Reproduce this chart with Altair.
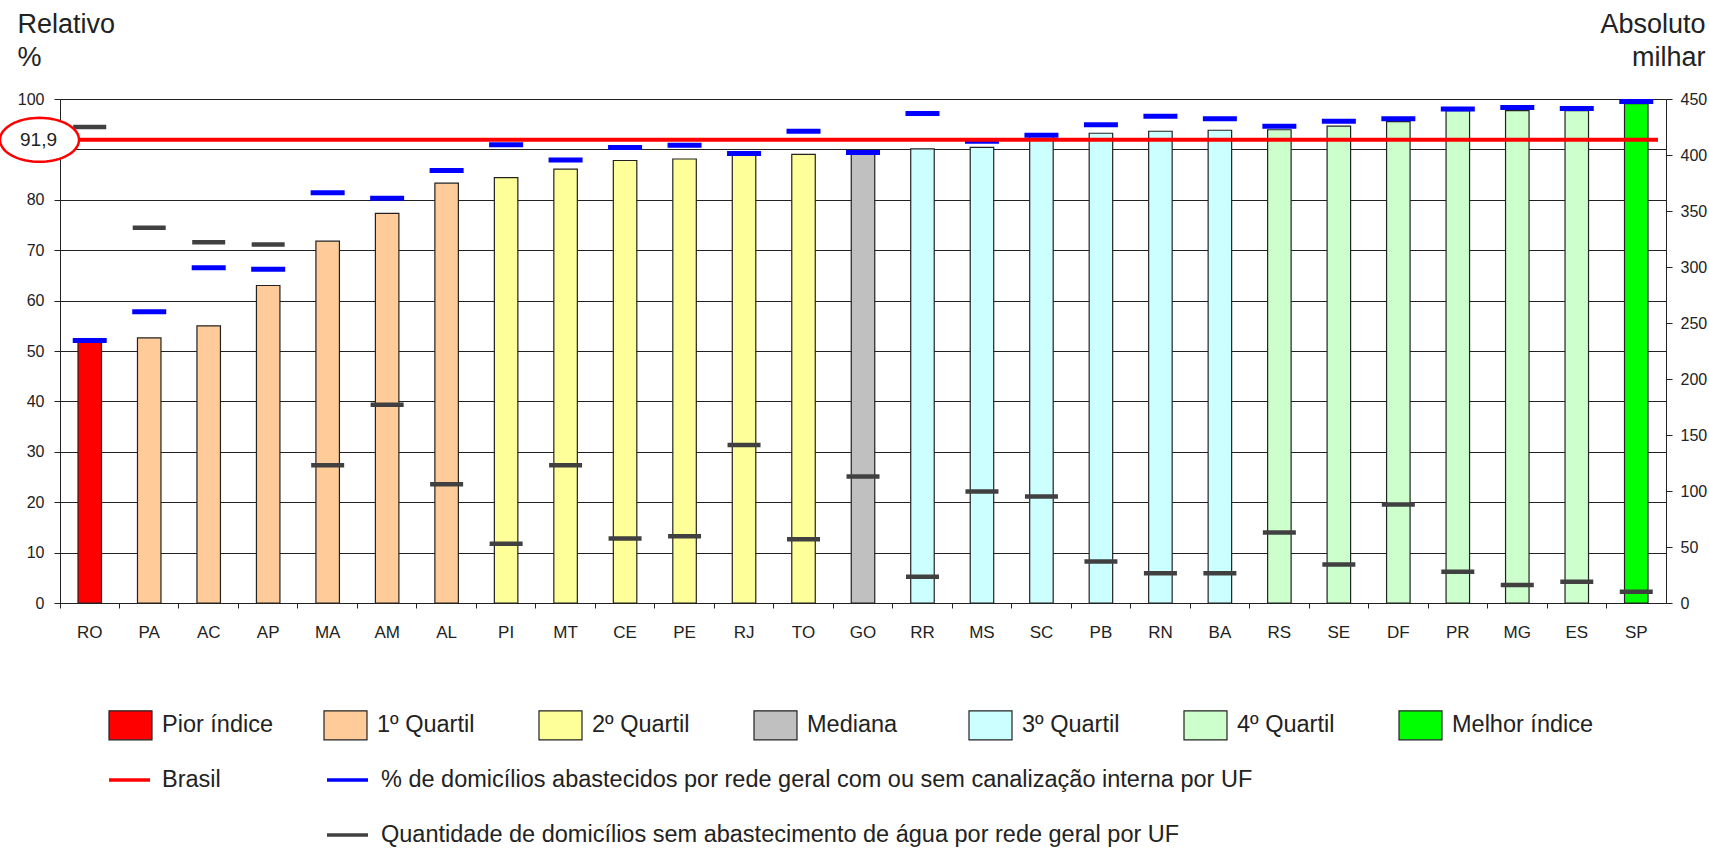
import math

import altair as alt
import pandas as pd

# Unidades da Federação, ordenadas pelo índice relativo
ufs = ["RO", "PA", "AC", "AP", "MA", "AM", "AL", "PI", "MT", "CE", "PE", "RJ", "TO", "GO",
       "RR", "MS", "SC", "PB", "RN", "BA", "RS", "SE", "DF", "PR", "MG", "ES", "SP"]
grupos = ["Pior índice",
          "1º Quartil", "1º Quartil", "1º Quartil", "1º Quartil", "1º Quartil", "1º Quartil",
          "2º Quartil", "2º Quartil", "2º Quartil", "2º Quartil", "2º Quartil", "2º Quartil",
          "Mediana",
          "3º Quartil", "3º Quartil", "3º Quartil", "3º Quartil", "3º Quartil", "3º Quartil",
          "4º Quartil", "4º Quartil", "4º Quartil", "4º Quartil", "4º Quartil", "4º Quartil",
          "Melhor índice"]
# índice relativo (%) – barras
relativo = [51.7, 52.6, 55.0, 63.0, 71.8, 77.3, 83.3, 84.4, 86.1, 87.8, 88.1, 88.9, 89.0, 89.1,
            90.1, 90.4, 92.6, 93.2, 93.6, 93.8, 93.9, 94.6, 95.5, 97.7, 97.7, 97.7, 99.1]
# % de domicílios abastecidos por rede geral
abastecidos = [52.1, 57.8, 66.5, 66.2, 81.4, 80.3, 85.8, 90.9, 87.9, 90.4, 90.8, 89.2, 93.6, 89.4,
               97.1, 91.6, 92.8, 94.9, 96.6, 96.1, 94.6, 95.6, 96.1, 98.0, 98.3, 98.1, 99.5]
# domicílios sem abastecimento por rede geral (mil)
sem_abastecimento = [425, 335, 322, 320, 123, 177, 106, 53, 123, 57.5, 59.6, 141, 57, 113,
                     23.5, 99.5, 95, 37, 26.5, 26.6, 63, 34.4, 88, 28, 16, 19, 10]
BRASIL = 91.9

grupo_nomes = ["Pior índice", "1º Quartil", "2º Quartil", "Mediana",
               "3º Quartil", "4º Quartil", "Melhor índice"]
grupo_cores = ["#FF0000", "#FFCC99", "#FFFF99", "#C0C0C0", "#CCFFFF", "#CCFFCC", "#00FF00"]

serie_nomes = ["Brasil",
               "% de domicílios abastecidos por rede geral com ou sem canalização interna por UF",
               "Quantidade de domicílios sem abastecimento de água por rede geral por UF"]
serie_cores = ["#FF0000", "#0000FF", "#404040"]

# ---- layout ----
W, H = 1606, 504
FONT = "Liberation Sans"
INK = "#222222"

df = pd.DataFrame({"uf": ufs, "grupo": grupos, "relativo": relativo,
                   "abastecidos": abastecidos, "milhar": sem_abastecimento})
ref = pd.DataFrame({"brasil": [BRASIL],
                    "rotulo": [f"{BRASIL:.1f}".replace(".", ",")]})
one = pd.DataFrame({"k": [0]})

x_enc = alt.X("uf:N", sort=ufs,
              scale=alt.Scale(paddingInner=0, paddingOuter=0),
              axis=alt.Axis(title=None, labelAngle=0, bandPosition=0, tickSize=5,
                            tickColor=INK, domainColor=INK, labelColor=INK,
                            labelFontSize=17, labelPadding=16, grid=False))

pct_scale = alt.Scale(domain=[0, 100], nice=False)

bars = alt.Chart(df).mark_bar(width=23.5, stroke="#222222", strokeWidth=1.2).encode(
    x=x_enc,
    y=alt.Y("relativo:Q", scale=pct_scale,
            axis=alt.Axis(values=list(range(0, 101, 10)),
                          labelExpr="datum.value == 90 ? '' : datum.label",
                          grid=True, gridColor="#222222", gridWidth=1,
                          tickSize=6, tickColor=INK, domainColor=INK,
                          labelColor=INK, labelFontSize=16, labelPadding=10,
                          title=["Relativo", "%"], titleAngle=0, titleAlign="left",
                          titleBaseline="alphabetic", titleX=-43, titleY=-67,
                          titleFontSize=27, titleFontWeight="normal",
                          titleLineHeight=33, titleColor=INK)),
    fill=alt.Color("grupo:N", scale=alt.Scale(domain=grupo_nomes, range=grupo_cores),
                   legend=None),
)

blue = alt.Chart(df).mark_tick(size=34, thickness=5, color=serie_cores[1], opacity=1).encode(
    x=x_enc,
    y=alt.Y("abastecidos:Q", scale=pct_scale, axis=None),
)

dark = alt.Chart(df).mark_tick(size=33, thickness=4.5, color=serie_cores[2], opacity=1).encode(
    x=x_enc,
    y=alt.Y("milhar:Q", scale=alt.Scale(domain=[0, 450], nice=False),
            axis=alt.Axis(orient="right", values=list(range(0, 451, 50)), grid=False,
                          tickSize=6, tickColor=INK, domainColor=INK,
                          labelColor=INK, labelFontSize=16, labelPadding=8,
                          title=["Absoluto", "milhar"], titleAngle=0, titleAlign="right",
                          titleBaseline="alphabetic", titleX=39, titleY=-67,
                          titleFontSize=27, titleFontWeight="normal",
                          titleLineHeight=33, titleColor=INK)),
)

brasil_line = alt.Chart(ref).mark_rule(color=serie_cores[0], strokeWidth=4).encode(
    y=alt.Y("brasil:Q", scale=pct_scale, axis=None),
    x=alt.value(0), x2=alt.value(W - 8),
)

# ellipse drawn as a polygon path inside the unit square
pts = []
for k in range(72):
    a = 2 * math.pi * k / 72
    pts.append(f"{math.cos(a):.4f} {0.557 * math.sin(a):.4f}")
ellipse_path = "M " + " L ".join(pts) + " Z"

ellipse = alt.Chart(ref).mark_point(shape=ellipse_path, size=79 * 79, filled=True,
                                    fill="white", stroke=serie_cores[0],
                                    strokeWidth=2.5, opacity=1).encode(
    y=alt.Y("brasil:Q", scale=pct_scale, axis=None),
    x=alt.value(-20.5),
)

ellipse_text = alt.Chart(ref).mark_text(fontSize=19, align="center", baseline="middle",
                                        color=INK, font=FONT).encode(
    y=alt.Y("brasil:Q", scale=pct_scale, axis=None),
    x=alt.value(-21.5),
    text="rotulo:N",
)

# ---- legend ----
LEG_X, LEG_STEP = 49, 215
ROW1, ROW2, ROW3 = 626.3, 681, 736
SW_W, SW_H = 43, 29
LEG_FS = 23.5
legend = []
for i, (nome, cor) in enumerate(zip(grupo_nomes, grupo_cores)):
    x0 = LEG_X + i * LEG_STEP
    legend.append(alt.Chart(one).mark_rect(fill=cor, stroke="#222222", strokeWidth=1.2).encode(
        x=alt.value(x0), x2=alt.value(x0 + SW_W),
        y=alt.value(ROW1 - SW_H / 2), y2=alt.value(ROW1 + SW_H / 2)))
    legend.append(alt.Chart(one).mark_text(align="left", baseline="middle", fontSize=LEG_FS,
                                           color=INK, font=FONT).encode(
        x=alt.value(x0 + 53), y=alt.value(ROW1), text=alt.value(nome)))

line_items = [(0, ROW2), (1, ROW2), (1, ROW3)]
for (col, row), nome, cor in zip(line_items, serie_nomes, serie_cores):
    x0 = LEG_X + col * LEG_STEP + (3 if col else 0)
    legend.append(alt.Chart(one).mark_rule(color=cor, strokeWidth=3.5).encode(
        x=alt.value(x0), x2=alt.value(x0 + 41), y=alt.value(row)))
    legend.append(alt.Chart(one).mark_text(align="left", baseline="middle", fontSize=LEG_FS,
                                           color=INK, font=FONT).encode(
        x=alt.value(x0 + (53 if col == 0 else 54)), y=alt.value(row), text=alt.value(nome)))

chart = alt.layer(
    bars, blue, dark, brasil_line, ellipse, ellipse_text, *legend
).resolve_scale(
    y="independent"
).properties(
    width=W, height=H,
    autosize=alt.AutoSizeParams(type="none"),
    padding={"left": 60, "top": 99, "right": 43, "bottom": 247},
    background="white",
).configure_view(
    stroke=None
).configure(
    font=FONT
)

chart.save("out.html", embed_options={"renderer": "svg", "actions": False})
